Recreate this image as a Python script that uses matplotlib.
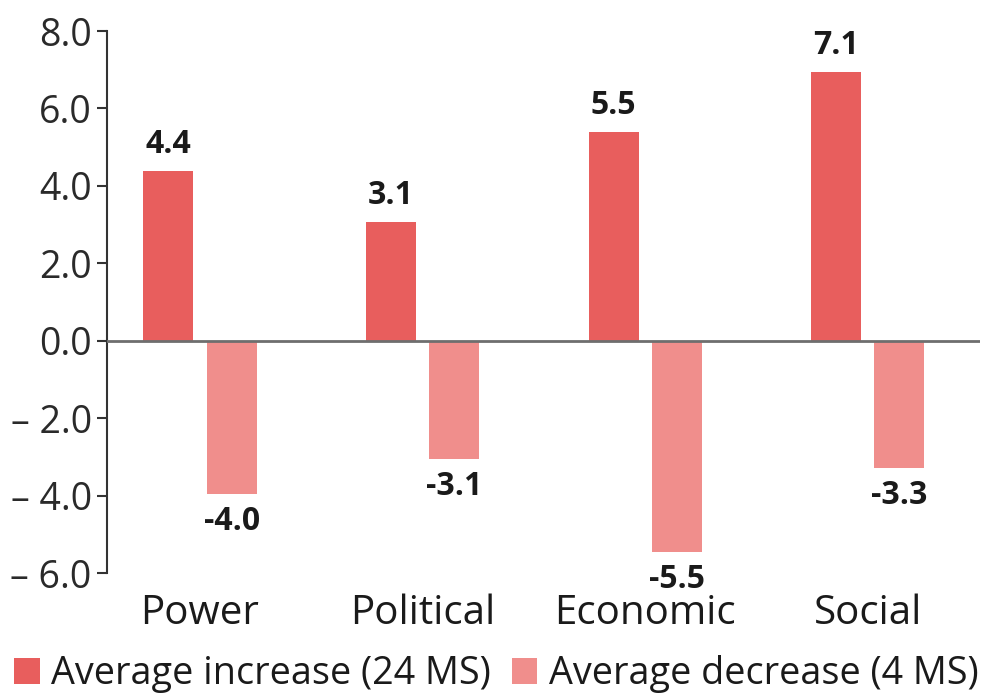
import matplotlib
matplotlib.use("Agg")
import matplotlib.pyplot as plt
from matplotlib.patches import Patch
import numpy as np

categories = ["Power", "Political", "Economic", "Social"]
increase = [4.38, 3.07, 5.39, 6.94]
decrease = [-3.95, -3.05, -5.45, -3.28]
increase_labels = ["4.4", "3.1", "5.5", "7.1"]
decrease_labels = ["-4.0", "-3.1", "-5.5", "-3.3"]
yticks = [-6, -4, -2, 0, 2, 4, 6, 8]
ytick_labels = ["– 6.0", "– 4.0", "– 2.0", "0.0", "2.0", "4.0", "6.0", "8.0"]
legend_labels = ["Average increase (24 MS)", "Average decrease (4 MS)"]

c_inc = "#E85E5D"
c_dec = "#F08E8C"

plt.rcParams['font.family'] = ['Open Sans', 'DejaVu Sans']

W, H = 994, 693
fig = plt.figure(figsize=(W / 100, H / 100), dpi=100)
ax = fig.add_axes([107 / W, (H - 573) / H, (980 - 107) / W, (573 - 31) / H])

x = np.arange(len(categories))
off = 0.142
bw = 0.225
ax.bar(x - off, increase, bw, color=c_inc, zorder=2)
ax.bar(x + off, decrease, bw, color=c_dec, zorder=2)

for xi, v, lab in zip(x, increase, increase_labels):
    ax.annotate(lab, (xi - off, v), xytext=(0, 7), textcoords="offset points",
                ha="center", va="bottom", fontsize=23, fontweight="bold", color="#1a1a1a")
for xi, v, lab in zip(x, decrease, decrease_labels):
    ax.annotate(lab, (xi + off, v), xytext=(0, -8), textcoords="offset points",
                ha="center", va="top", fontsize=23, fontweight="bold", color="#1a1a1a")

ax.axhline(0, color="#6e6e6e", lw=2, zorder=3)
ax.set_xlim(-0.418, 3.504)
ax.set_ylim(-6, 8)
ax.set_yticks(yticks)
ax.set_yticklabels(ytick_labels)
ax.set_xticks(x)
ax.set_xticklabels(categories)

for s in ["top", "right", "bottom"]:
    ax.spines[s].set_visible(False)
ax.spines["left"].set_color("#333333")
ax.spines["left"].set_linewidth(1.5)
ax.tick_params(axis="y", length=7, width=1.5, color="#333333", labelsize=27,
               labelcolor="#2a2a2a", pad=4)
ax.tick_params(axis="x", length=0, labelsize=29, labelcolor="#1a1a1a", pad=15)

handles = [Patch(facecolor=c_inc), Patch(facecolor=c_dec)]
fig.legend(handles, legend_labels, loc="lower left", bbox_to_anchor=(14 / W, 0.0),
           ncol=2, frameon=False, fontsize=27.2, handlelength=0.68, handleheight=0.68,
           handletextpad=0.3, columnspacing=0.55, labelcolor="#1a1a1a",
           borderpad=0, borderaxespad=0)

fig.savefig("out.png", dpi=100)
